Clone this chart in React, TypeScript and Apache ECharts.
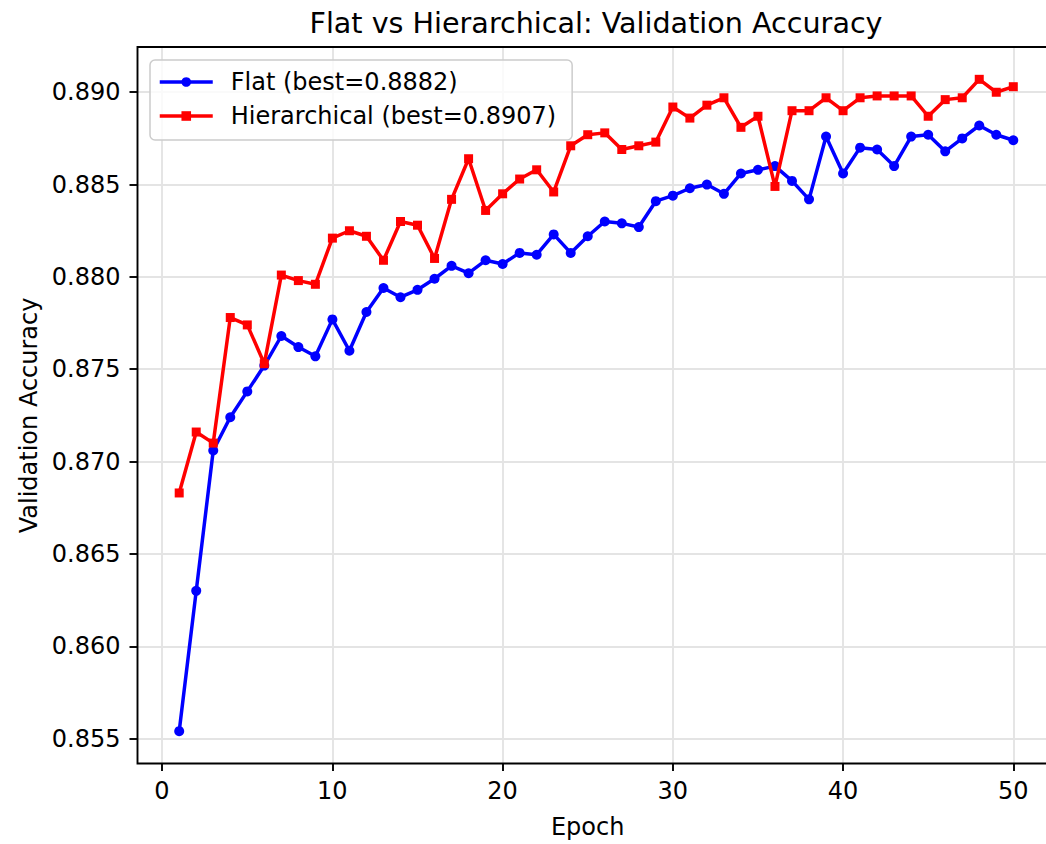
import React, { useEffect, useRef } from "react";
import * as echarts from "echarts";

const epochs = Array.from({ length: 50 }, (_, i) => i + 1);

const flatAcc = [
  0.8554, 0.8630, 0.8706, 0.8724, 0.8738, 0.8752, 0.8768, 0.8762, 0.8757, 0.8777,
  0.8760, 0.8781, 0.8794, 0.8789, 0.8793, 0.8799, 0.8806, 0.8802, 0.8809, 0.8807,
  0.8813, 0.8812, 0.8823, 0.8813, 0.8822, 0.8830, 0.8829, 0.8827, 0.8841, 0.8844,
  0.8848, 0.8850, 0.8845, 0.8856, 0.8858, 0.8860, 0.8852, 0.8842, 0.8876, 0.8856,
  0.8870, 0.8869, 0.8860, 0.8876, 0.8877, 0.8868, 0.8875, 0.8882, 0.8877, 0.8874,
];

const hierAcc = [
  0.8683, 0.8716, 0.8710, 0.8778, 0.8774, 0.8753, 0.8801, 0.8798, 0.8796, 0.8821,
  0.8825, 0.8822, 0.8809, 0.8830, 0.8828, 0.8810, 0.8842, 0.8864, 0.8836, 0.8845,
  0.8853, 0.8858, 0.8846, 0.8871, 0.8877, 0.8878, 0.8869, 0.8871, 0.8873, 0.8892,
  0.8886, 0.8893, 0.8897, 0.8881, 0.8887, 0.8849, 0.8890, 0.8890, 0.8897, 0.8890,
  0.8897, 0.8898, 0.8898, 0.8898, 0.8887, 0.8896, 0.8897, 0.8907, 0.8900, 0.8903,
];

const titleText = "Flat vs Hierarchical: Validation Accuracy";
const xName = "Epoch";
const yName = "Validation Accuracy";
const flatName = `Flat (best=${Math.max(...flatAcc).toFixed(4)})`;
const hierName = `Hierarchical (best=${Math.max(...hierAcc).toFixed(4)})`;

const FONT = "DejaVu Sans";
const BASE = 24;
const CHART_W = 1062;

export default function App() {
  const ref = useRef<HTMLDivElement>(null);

  useEffect(() => {
    if (!ref.current) return;
    const chart = echarts.init(ref.current, undefined, { renderer: "svg" });
    const gridColor = "#e4e4e4";
    const tickStyle = { show: true, inside: false, length: 8, lineStyle: { color: "#000", width: 1.9 } };
    const labelStyle = { color: "#000", fontSize: BASE, fontFamily: FONT };
    const dataRight = CHART_W - 1055;

    chart.setOption({
      animation: false,
      backgroundColor: "#fff",
      textStyle: { fontFamily: FONT },
      graphic: [
        {
          type: "text",
          x: 596,
          y: 23,
          style: {
            text: titleText,
            font: `28.6px "${FONT}"`,
            fill: "#000",
            textAlign: "center",
            textVerticalAlign: "middle",
          },
        },
      ],
      grid: [
        { left: 137.5, right: dataRight, top: 47, bottom: 80.5, show: true, borderColor: "#000", borderWidth: 1.9, backgroundColor: "transparent", z: 3 },
        { left: 162, right: CHART_W - 1013.3, top: 47, bottom: 80.5 },
        { left: 137.5, right: dataRight, top: 92.2, bottom: 105.4 },
      ],
      xAxis: [
        { type: "value", gridIndex: 0, min: -1.45, max: 52.45, show: false },
        {
          type: "value",
          gridIndex: 1,
          min: 0,
          max: 50,
          interval: 10,
          position: "bottom",
          axisLine: { show: false },
          axisTick: tickStyle,
          axisLabel: { ...labelStyle, margin: 16 },
          splitLine: { show: true, lineStyle: { color: gridColor, width: 1.9 } },
          name: xName,
          nameLocation: "middle",
          nameGap: 52,
          nameTextStyle: { ...labelStyle, verticalAlign: "top" },
        },
        { type: "value", gridIndex: 2, min: 0, max: 1, show: false },
      ],
      yAxis: [
        { type: "value", gridIndex: 0, min: 0.85365, max: 0.89245, show: false },
        { type: "value", gridIndex: 1, min: 0, max: 1, show: false },
        {
          type: "value",
          gridIndex: 2,
          min: 0.855,
          max: 0.89,
          interval: 0.005,
          axisLine: { show: false },
          axisTick: tickStyle,
          axisLabel: { ...labelStyle, margin: 17, formatter: (v: number) => v.toFixed(3) },
          splitLine: { show: true, lineStyle: { color: gridColor, width: 1.9 } },
          name: yName,
          nameLocation: "middle",
          nameGap: 96,
          nameTextStyle: { ...labelStyle },
        },
      ],
      legend: {
        orient: "vertical",
        left: 150,
        top: 60,
        itemWidth: 53,
        itemHeight: 12,
        itemGap: 10,
        padding: [10, 16, 12, 8],
        backgroundColor: "rgba(255,255,255,0.8)",
        borderColor: "#cccccc",
        borderWidth: 1.5,
        borderRadius: 5,
        lineStyle: { width: 3.5 },
        textStyle: { ...labelStyle, padding: [0, 0, 0, 13] },
        data: [flatName, hierName],
      },
      series: [
        {
          name: flatName,
          type: "line",
          xAxisIndex: 0,
          yAxisIndex: 0,
          data: epochs.map((e, i) => [e, flatAcc[i]]),
          symbol: "circle",
          symbolSize: 10,
          lineStyle: { color: "#0000ff", width: 3.5 },
          itemStyle: { color: "#0000ff" },
          z: 4,
        },
        {
          name: hierName,
          type: "line",
          xAxisIndex: 0,
          yAxisIndex: 0,
          data: epochs.map((e, i) => [e, hierAcc[i]]),
          symbol: "rect",
          symbolSize: 9,
          lineStyle: { color: "#ff0000", width: 3.5 },
          itemStyle: { color: "#ff0000" },
          z: 5,
        },
      ],
    });

    return () => chart.dispose();
  }, []);

  return (
    <div style={{ position: "fixed", left: 0, top: 0, width: 1046, height: 844, overflow: "hidden" }}>
      <div ref={ref} style={{ width: CHART_W, height: 844 }} />
    </div>
  );
}
